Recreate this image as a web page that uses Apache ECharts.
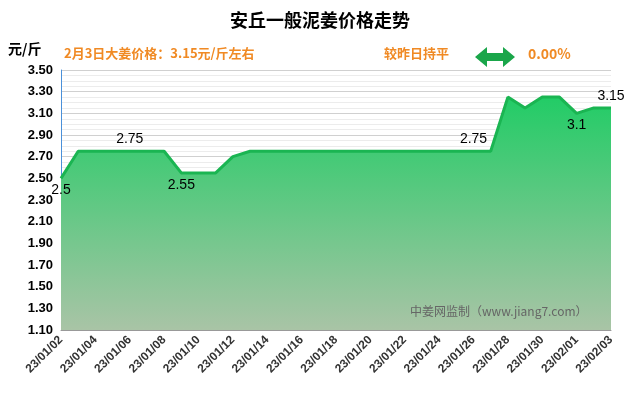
<!DOCTYPE html><html><head><meta charset="utf-8"><script src="https://cdn.jsdelivr.net/npm/echarts@6/dist/echarts.min.js"></script></head><body style="margin:0"><div id="c" style="width:640px;height:410px"></div><script>
const days=[];for(let d=2;d<=31;d++)days.push('23/01/'+String(d).padStart(2,'0'));days.push('23/02/01','23/02/02','23/02/03');
const prices=[2.50,2.75,2.75,2.75,2.75,2.75,2.75,2.55,2.55,2.55,2.70,2.75,2.75,2.75,2.75,2.75,2.75,2.75,2.75,2.75,2.75,2.75,2.75,2.75,2.75,2.75,3.25,3.15,3.25,3.25,3.10,3.15,3.15];
const labelAbove=[4,24,32], labelBelow=[0,7,30];
const yTicks={min:1.10,max:3.50,step:0.20};
const c=echarts.init(document.getElementById('c'));
const data=prices.map((v,i)=>{const o={value:v};if(labelAbove.includes(i))o.label={show:true,position:'top',offset:i==32?[-4,0]:[0,0]};if(labelBelow.includes(i))o.label={show:true,position:'bottom',offset:i==0?[20,4]:[0,4]};return o;});
c.setOption({animation:false,backgroundColor:'#fff',
title:{text:'安丘一般泥姜价格走势',left:'center',top:6,textStyle:{fontSize:18,fontWeight:'bold',color:'#000',fontFamily:'Noto Sans CJK SC'}},
graphic:[
{type:'text',left:8,top:42,style:{text:'元/斤',font:'bold 14px "Noto Sans CJK SC"',fill:'#000'}},
{type:'text',left:64,top:47,style:{text:'2月3日大姜价格：3.15元/斤左右',font:'bold 13px "Noto Sans CJK SC"',fill:'#f08a24'}},
{type:'text',left:384,top:47,style:{text:'较昨日持平',font:'bold 13px "Noto Sans CJK SC"',fill:'#f08a24'}},
{type:'polygon',shape:{points:[[475,57],[487,47],[487,53],[503,53],[503,47],[515,57],[503,67],[503,61],[487,61],[487,67]]},style:{fill:'#1aa64a'}},
{type:'text',left:528,top:47,style:{text:'0.00%',font:'bold 14px "Noto Sans CJK SC"',fill:'#f08a24'}},
{type:'text',left:410,top:305,z:10,style:{text:'中姜网监制（www.jiang7.com）',font:'12px "Noto Sans CJK SC"',fill:'#666'}}
],
grid:{left:61,right:29,top:70,bottom:80},
xAxis:{type:'category',data:days,boundaryGap:false,axisLine:{lineStyle:{color:'#999'}},axisTick:{show:false},
axisLabel:{interval:1,rotate:45,color:'#333',fontWeight:'bold',fontSize:12,margin:8}},
yAxis:{type:'value',min:yTicks.min,max:yTicks.max,interval:yTicks.step,axisLine:{show:true,lineStyle:{color:'#4a90d9'}},axisTick:{show:false},
axisLabel:{formatter:v=>v.toFixed(2),color:'#000',fontWeight:'bold',fontSize:13},
splitLine:{lineStyle:{color:'#d0d0d0'}},minorTick:{show:false,splitNumber:4},minorSplitLine:{show:true,lineStyle:{color:'#ececec'}}},
series:[{type:'line',data:data,symbol:'circle',symbolSize:0.1,showSymbol:true,lineStyle:{color:'#1ab552',width:3},itemStyle:{color:'#1ab552'},
label:{show:false,color:'#000',fontSize:14},labelLayout:{hideOverlap:false},
areaStyle:{color:new echarts.graphic.LinearGradient(0,0,0,1,[{offset:0,color:'#22cc66'},{offset:1,color:'#a9c4a6'}]),opacity:1}}]});
</script></body></html>
